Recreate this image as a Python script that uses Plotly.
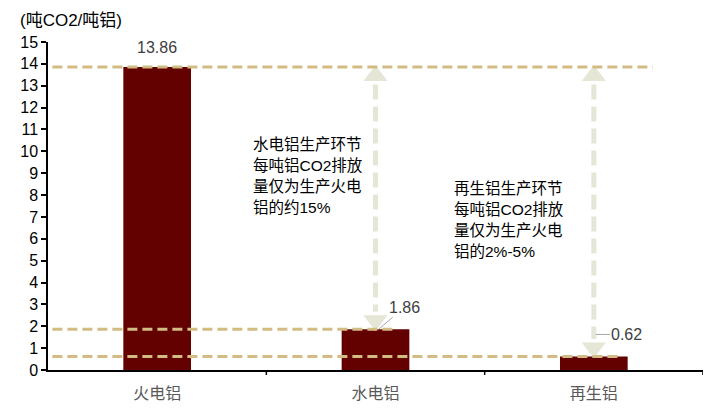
import plotly.graph_objects as go

categories = ["火电铝", "水电铝", "再生铝"]
emissions = [13.86, 1.86, 0.62]
value_labels = ["13.86", "1.86", "0.62"]
y_title = "(吨CO2/吨铝)"
note_hydro = ["水电铝生产环节", "每吨铝CO2排放", "量仅为生产火电", "铝的约15%"]
note_recycled = ["再生铝生产环节", "每吨铝CO2排放", "量仅为生产火电", "铝的2%-5%"]

BAR = "#630000"
GUIDE = "#D3BC84"
ARROW = "#E6E6D7"
FONT = "Liberation Sans, Noto Sans CJK SC"

fig = go.Figure()
fig.add_trace(go.Bar(x=[0, 1, 2], y=emissions, width=0.31, marker=dict(color=BAR, line=dict(width=0)),
                     hoverinfo="skip"))

# dashed guide lines at the bar tops
guide_ends = [2.27, 1.08, 2.11]
for v, x1 in zip(emissions, guide_ends):
    fig.add_shape(type="line", xref="x", yref="y", x0=-0.48, x1=x1, y0=v, y1=v,
                  line=dict(color=GUIDE, width=3, dash="10px,5px"), layer="above")

# double-headed dashed arrows between the top line and the lower bars
top = emissions[0]
head = 0.4
for i in (1, 2):
    low = emissions[i]
    fig.add_trace(go.Scatter(x=[i, i], y=[top - 2 * head, low + 2 * head], mode="lines",
                             line=dict(color=ARROW, width=5, dash="15px,7px"), hoverinfo="skip"))
    fig.add_trace(go.Scatter(x=[i, i], y=[top - head, low + head], mode="markers",
                             marker=dict(symbol=["triangle-up", "triangle-down"], size=21, color=ARROW,
                                         line=dict(width=0)), hoverinfo="skip"))

# value labels
fig.add_annotation(x=0, y=emissions[0], text=value_labels[0], showarrow=False, yshift=19,
                   font=dict(size=16, color="#404040", family=FONT))
fig.add_annotation(x=1, y=emissions[1], text=value_labels[1], showarrow=True, arrowhead=0,
                   arrowcolor="#A6A6A6", arrowwidth=1, xshift=3, ax=26, ay=-22,
                   font=dict(size=16, color="#404040", family=FONT))
fig.add_annotation(x=2, y=emissions[2], text=value_labels[2], showarrow=True, arrowhead=0,
                   arrowcolor="#A6A6A6", arrowwidth=1, xshift=2, yshift=22, ax=31, ay=0,
                   font=dict(size=16, color="#404040", family=FONT))

# notes
for k, line in enumerate(note_hydro):
    fig.add_annotation(x=0.43, y=10.29 - k * 0.96, text=line, showarrow=False, xanchor="left",
                       yanchor="middle", font=dict(size=15.5, color="#000000", family=FONT))
for k, line in enumerate(note_recycled):
    fig.add_annotation(x=1.35, y=8.28 - k * 0.96, text=line, showarrow=False, xanchor="left",
                       yanchor="middle", font=dict(size=15.5, color="#000000", family=FONT))

fig.add_annotation(xref="paper", yref="paper", x=-0.046, y=1.0, yshift=22, text=y_title, showarrow=False,
                   xanchor="left", yanchor="middle", font=dict(size=17, color="#000000", family=FONT))

# the page body adds an 8px offset, so margins are shifted to compensate
fig.update_layout(
    width=711, height=420,
    margin=dict(l=40, r=16, t=34, b=58),
    paper_bgcolor="white", plot_bgcolor="white",
    showlegend=False,
    font=dict(family=FONT, size=16, color="#000000"),
)
fig.update_xaxes(range=[-0.5, 2.5], tickmode="array", tickvals=[0, 1, 2], ticktext=categories,
                 showline=True, linecolor="#000000", linewidth=1.5, showgrid=False, zeroline=False,
                 ticks="outside", ticklen=8, tickcolor="rgba(0,0,0,0)",
                 tickfont=dict(size=16, color="#595959"), fixedrange=True)
# boundary ticks on the category axis
for b in (0.5, 1.5, 2.5):
    fig.add_shape(type="line", xref="x", yref="paper", x0=b, x1=b, y0=0, y1=-0.015,
                  line=dict(color="#000000", width=1.5))
fig.update_yaxes(range=[0, 15], dtick=1, showline=True, linecolor="#000000", linewidth=1.5,
                 ticks="outside", ticklen=5, tickwidth=1.5, tickcolor="#000000", showgrid=False,
                 zeroline=False, tickfont=dict(size=16, color="#000000"), fixedrange=True)

fig.write_html("out.html")
